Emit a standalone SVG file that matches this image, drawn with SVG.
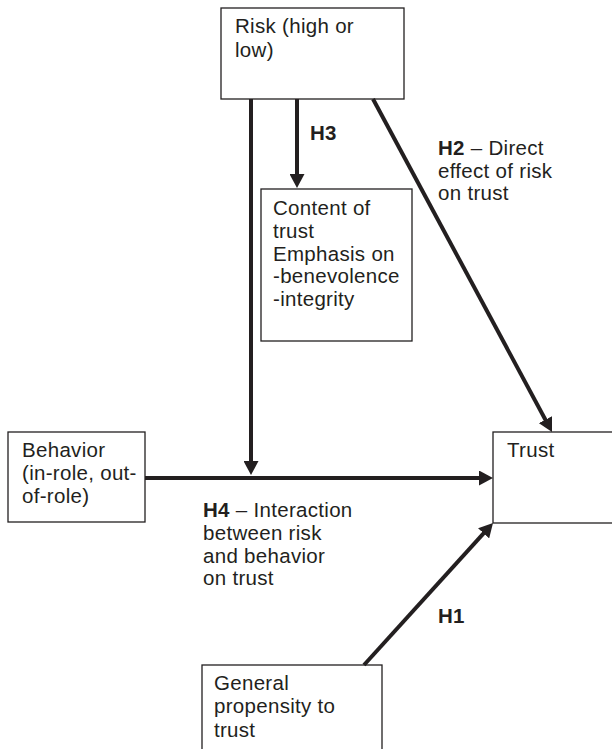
<svg xmlns="http://www.w3.org/2000/svg" width="612" height="749" viewBox="0 0 612 749">
<style>
.box{fill:#fff;stroke:#231f20;stroke-width:1.3}
.t{font-family:"Liberation Sans",Arial,sans-serif;font-size:20.5px;letter-spacing:0.3px;fill:#231f20}
.b{font-weight:bold}
.c{stroke:#231f20;stroke-width:4;fill:none;marker-end:url(#ah)}
</style>
<defs>
<marker id="ah" markerUnits="userSpaceOnUse" markerWidth="15" markerHeight="15" refX="4" refY="7.5" orient="auto">
<path d="M0,0 L14,7.5 L0,15 z" fill="#231f20"/>
</marker>
</defs>
<rect width="612" height="749" fill="#fff"/>
<g id="risk">
<rect class="box" x="221" y="8" width="183" height="91"/>
<text class="t" x="235" y="33">Risk (high or</text>
<text class="t" x="235" y="56.5">low)</text>
</g>
<g id="content">
<rect class="box" x="261" y="189" width="151" height="152"/>
<text class="t" x="273" y="215">Content of</text>
<text class="t" x="273" y="238">trust</text>
<text class="t" x="273" y="260.5">Emphasis on</text>
<text class="t" x="273" y="283">-benevolence</text>
<text class="t" x="273" y="306">-integrity</text>
</g>
<g id="behavior">
<rect class="box" x="8" y="432" width="137" height="90"/>
<text class="t" x="22" y="457">Behavior</text>
<text class="t" x="22" y="480">(in-role, out-</text>
<text class="t" x="22" y="503">of-role)</text>
</g>
<g id="trust">
<rect class="box" x="493" y="432" width="125" height="91"/>
<text class="t" x="507" y="457">Trust</text>
</g>
<g id="general">
<rect class="box" x="202" y="665" width="180" height="95"/>
<text class="t" x="214" y="690">General</text>
<text class="t" x="214" y="713">propensity to</text>
<text class="t" x="214" y="736.5">trust</text>
</g>
<g id="connectors">
<line class="c" x1="251" y1="99" x2="251" y2="465"/>
<line class="c" x1="297" y1="99" x2="297" y2="178"/>
<line class="c" x1="373" y1="99" x2="547.3" y2="423.2"/>
<line class="c" x1="145" y1="478" x2="483" y2="478"/>
<line class="c" x1="364" y1="665" x2="486.3" y2="530.4"/>
</g>
<g id="labels">
<text class="t b" x="310" y="140">H3</text>
<text class="t" x="438" y="155"><tspan class="b">H2</tspan> – Direct</text>
<text class="t" x="438" y="177.5">effect of risk</text>
<text class="t" x="438" y="200">on trust</text>
<text class="t" x="203" y="517"><tspan class="b">H4</tspan> – Interaction</text>
<text class="t" x="203" y="540">between risk</text>
<text class="t" x="203" y="562.5">and behavior</text>
<text class="t" x="203" y="585">on trust</text>
<text class="t b" x="438" y="623">H1</text>
</g>
</svg>
